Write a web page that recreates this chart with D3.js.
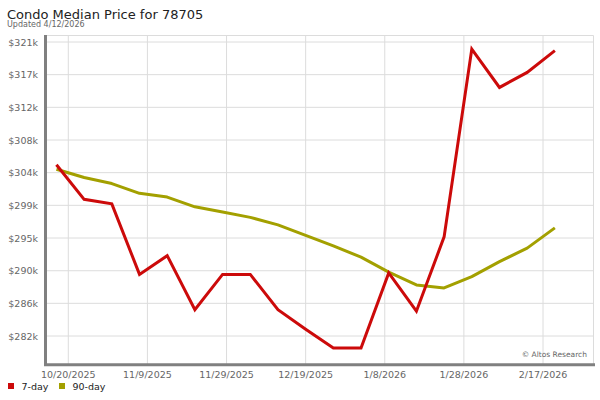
<!DOCTYPE html>
<html>
<head>
<meta charset="utf-8">
<script src="https://cdn.jsdelivr.net/npm/d3@7"></script>
<style>
  body { margin: 0; background: #fff; }
  svg text { font-family: "DejaVu Sans", sans-serif; }
</style>
</head>
<body>
<div class="container"></div>
<script>
// DATA (weekly, $k)
const dates = ['2025-10-17','2025-10-24','2025-10-31','2025-11-07','2025-11-14','2025-11-21',
  '2025-11-28','2025-12-05','2025-12-12','2025-12-19','2025-12-26','2026-01-02','2026-01-09',
  '2026-01-16','2026-01-23','2026-01-30','2026-02-06','2026-02-13','2026-02-20']
const day7 = [304.6, 300.0, 299.4, 290.0, 292.5, 285.3, 290.0, 290.0, 285.3, 282.7,
  280.2, 280.2, 290.2, 285.1, 295.0, 320.0, 314.9, 316.9, 319.8]
const day90 = [304.0, 302.9, 302.1, 300.8, 300.3, 299.0, 298.3, 297.6, 296.6, 295.2,
  293.8, 292.3, 290.3, 288.6, 288.2, 289.7, 291.7, 293.5, 296.2]
const yTicks = [281.8, 286.15, 290.49, 294.85, 299.2, 303.55, 307.9, 312.25, 316.6, 320.95]
const xTicks = ['2025-10-20','2025-11-09','2025-11-29','2025-12-19','2026-01-08','2026-01-28','2026-02-17']

// COLORS
const red = '#cc0a0a'
const olive = '#a3a000'
const axisGray = '#808080'
const gridGray = '#dcdcdc'
const labelGray = '#666'

const W = 600, H = 400
const plot = {left: 46, right: 593, top: 35, bottom: 364}

const parse = d3.utcParse('%Y-%m-%d')
const fmtTick = d => `${d.getUTCMonth() + 1}/${d.getUTCDate()}/${d.getUTCFullYear()}`

// SCALES
var x = d3.scaleUtc()
    .domain([parse('2025-10-20'), parse('2026-02-17')])
    .range([68.3, 543])

var y = d3.scaleLinear()
    .domain([281.8, 320.95])
    .range([336, 42])

var svg = d3.select('div.container').append('svg')
    .attr('width', W)
    .attr('height', H)

// grid
let grid = svg.append('g')
grid.selectAll('line.h')
  .data(yTicks)
  .enter().append('line')
    .attr('x1', plot.left).attr('x2', plot.right)
    .attr('y1', d => y(d)).attr('y2', d => y(d))
    .attr('stroke', gridGray).attr('stroke-width', 1)

grid.selectAll('line.v')
  .data(xTicks)
  .enter().append('line')
    .attr('x1', d => x(parse(d))).attr('x2', d => x(parse(d)))
    .attr('y1', plot.top).attr('y2', plot.bottom)
    .attr('stroke', gridGray).attr('stroke-width', 1)

// frame top / right
svg.append('path')
    .attr('d', `M${plot.left},${plot.top + 0.5}H${plot.right + 0.5}V${plot.bottom}`)
    .attr('fill', 'none')
    .attr('stroke', gridGray)

// axes
svg.append('line')
    .attr('x1', 45.5).attr('x2', 45.5)
    .attr('y1', plot.top).attr('y2', 366)
    .attr('stroke', axisGray).attr('stroke-width', 3)
svg.append('line')
    .attr('x1', 44).attr('x2', 595)
    .attr('y1', 364.8).attr('y2', 364.8)
    .attr('stroke', axisGray).attr('stroke-width', 3)

// y labels
svg.append('g').selectAll('text')
  .data(yTicks)
  .enter().append('text')
    .attr('x', 38)
    .attr('y', d => y(d) + 3.5)
    .attr('text-anchor', 'end')
    .attr('font-size', 9.5)
    .attr('fill', labelGray)
    .text(d => `$${Math.round(d)}k`)

// x labels
svg.append('g').selectAll('text')
  .data(xTicks)
  .enter().append('text')
    .attr('x', d => x(parse(d)))
    .attr('y', 378)
    .attr('text-anchor', 'middle')
    .attr('font-size', 9.5)
    .attr('fill', labelGray)
    .text(d => fmtTick(parse(d)))

// lines
var line = d3.line()
    .x((d, i) => x(parse(dates[i])))
    .y(d => y(d))

svg.append('path')
    .datum(day90)
    .attr('d', line)
    .attr('fill', 'none')
    .attr('stroke', olive)
    .attr('stroke-width', 3)
    .attr('stroke-linejoin', 'round')

svg.append('path')
    .datum(day7)
    .attr('d', line)
    .attr('fill', 'none')
    .attr('stroke', red)
    .attr('stroke-width', 3)
    .attr('stroke-linejoin', 'miter')

// titles
svg.append('text')
    .attr('x', 7).attr('y', 19)
    .attr('font-size', 13)
    .attr('fill', '#222')
    .text('Condo Median Price for 78705')
svg.append('text')
    .attr('x', 7).attr('y', 27)
    .attr('font-size', 8)
    .attr('fill', labelGray)
    .text('Updated 4/12/2026')

// credit
svg.append('text')
    .attr('x', 587).attr('y', 356.5)
    .attr('text-anchor', 'end')
    .attr('font-size', 7.5)
    .attr('fill', labelGray)
    .text('© Altos Research')

// legend
let legend = svg.append('g')
let items = [{name: '7-day', color: red, x: 8}, {name: '90-day', color: olive, x: 59}]
legend.selectAll('rect')
  .data(items)
  .enter().append('rect')
    .attr('x', d => d.x).attr('y', 383)
    .attr('width', 6).attr('height', 6)
    .attr('fill', d => d.color)
legend.selectAll('text')
  .data(items)
  .enter().append('text')
    .attr('x', d => d.x + 13.5).attr('y', 390)
    .attr('font-size', 9.5)
    .attr('fill', '#222')
    .text(d => d.name)
</script>
</body>
</html>
